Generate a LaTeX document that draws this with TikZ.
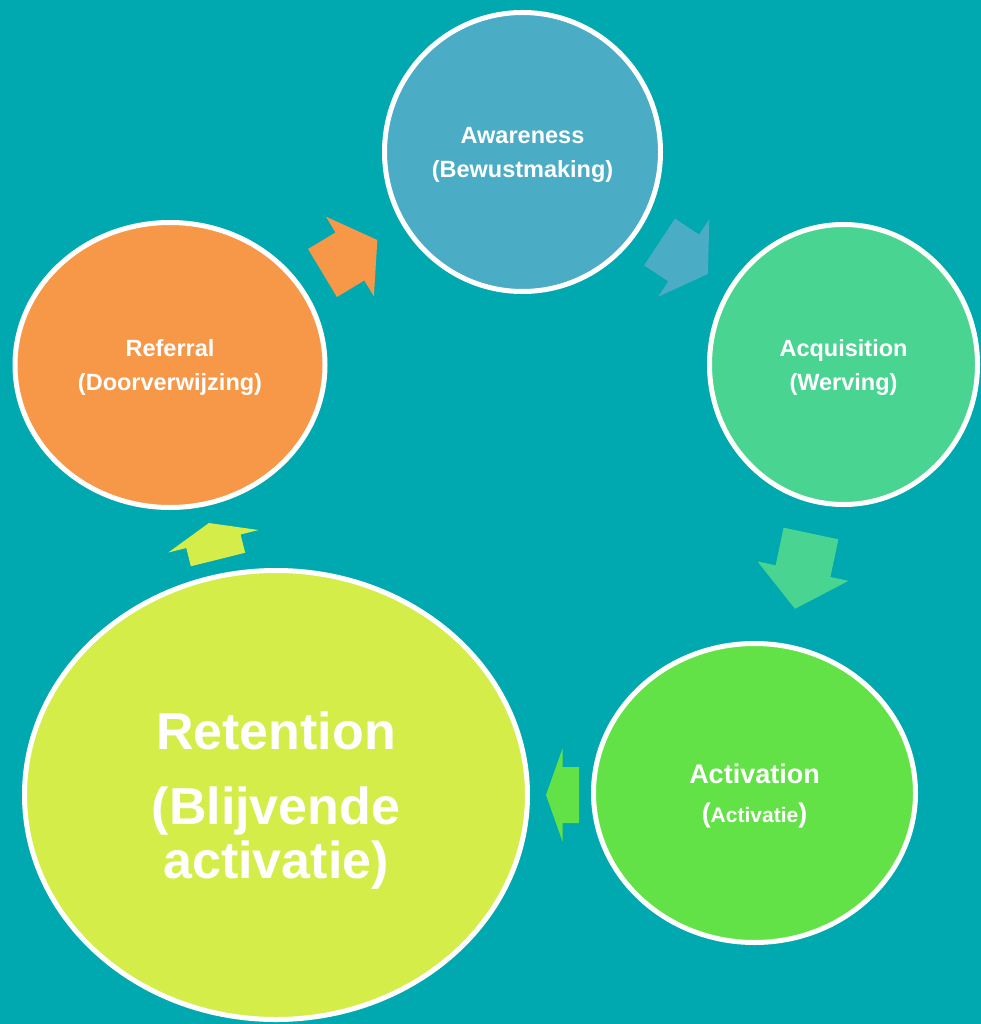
\documentclass[tikz,border=0pt]{standalone}
\usepackage{fontspec}
\setmainfont{Liberation Sans}
\usetikzlibrary{shapes.geometric}
\definecolor{bgteal}{RGB}{0,168,176}
\definecolor{awareblue}{RGB}{75,172,198}
\definecolor{acqgreen}{RGB}{74,212,146}
\definecolor{actgreen}{RGB}{99,226,72}
\definecolor{retyellow}{RGB}{212,237,72}
\definecolor{reforange}{RGB}{247,152,72}

\begin{document}
\begin{tikzpicture}
  [x=1pt, y=-1pt,
  stage/.style={ellipse, draw=white, line width=5pt, inner sep=0pt, text=white, align=center,
    text depth=0pt, font=\fontsize{23.5}{34}\selectfont\bfseries},
  pics/cycarrow/.style={code={
    \path [pic actions] (0,-28) -- (#1/2,-28) -- (#1/2,-46.5) -- (#1,0)
      -- (#1/2,46.5) -- (#1/2,28) -- (0,28) -- cycle;}}]
  \useasboundingbox (0,0) rectangle (981,1024);
  \fill [bgteal] (0,0) rectangle (981,1024);
  % nodes
  \node [stage, fill=awareblue, minimum width=276pt, minimum height=279pt] (aware) at (522.5,152) {Awareness\\(Bewustmaking)};
  \node [stage, fill=acqgreen, minimum width=268pt, minimum height=280pt] (acquire) at (843.5,364.5) {Acquisition\\(Werving)};
  \node [stage, fill=actgreen, minimum width=322pt, minimum height=299pt, font=\fontsize{27}{39}\selectfont\bfseries] (activate) at (754.5,793) {Activation\\({\fontsize{21}{39}\selectfont Activatie})};
  \node [stage, fill=retyellow, minimum width=503pt, minimum height=449pt, font=\fontsize{52}{53.5}\selectfont\bfseries] (retain) at (276,795) {Retention\\[22pt](Blijvende\\activatie)};
  \node [stage, fill=reforange, minimum width=310pt, minimum height=285pt] (refer) at (170,365) {Referral\\(Doorverwijzing)};
  % arrows
  \pic [fill=awareblue, rotate=-33.4] at (659.5,242) {cycarrow=58};
  \pic [fill=acqgreen, rotate=-102] at (811,533.5) {cycarrow=77};
  \pic [fill=actgreen, rotate=180] at (579,795) {cycarrow=33};
  \pic [fill=retyellow, rotate=104] at (218,559.5) {cycarrow=37.6};
  \pic [fill=reforange, rotate=31] at (322.5,273) {cycarrow=64};
\end{tikzpicture}
\end{document}
